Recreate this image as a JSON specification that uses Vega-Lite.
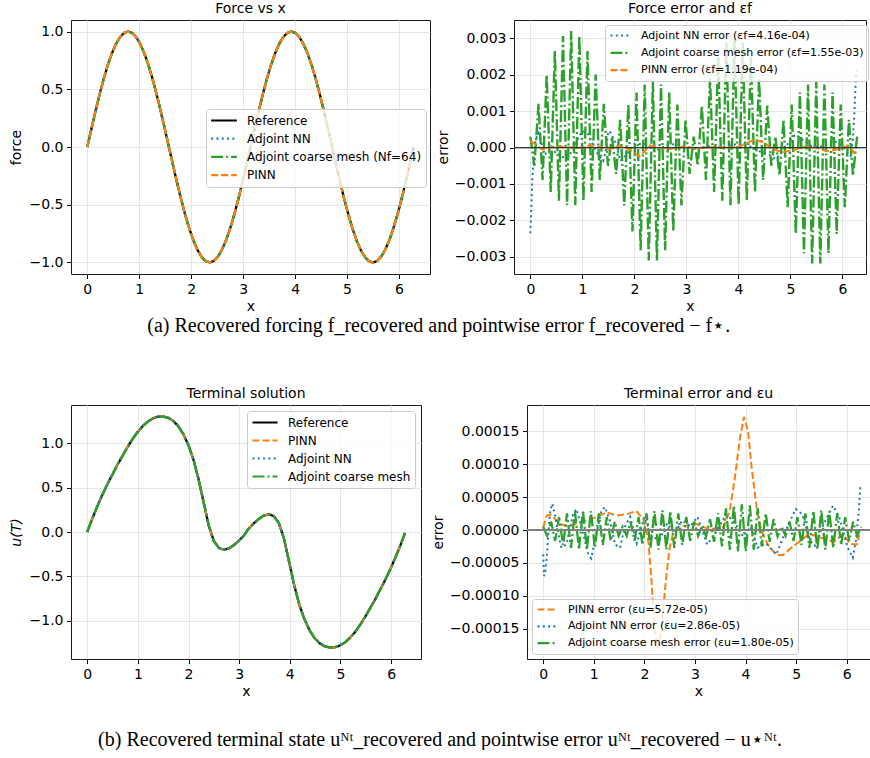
{
  "$schema": "https://vega.github.io/schema/vega-lite/v6.json",
  "padding": {"left": 8, "top": 1, "right": 0, "bottom": 0},
  "background": "white",
  "config": {
    "font": "DejaVu Sans",
    "view": {"stroke": "#1a1a1a", "strokeWidth": 1},
    "axis": {"labelFont": "DejaVu Sans", "labelFontSize": 14, "labelColor": "#000", "titleFont": "DejaVu Sans", "titleFontSize": 14, "titleFontWeight": "normal", "titleColor": "#000", "tickColor": "#000", "tickSize": 4.5, "tickWidth": 1, "labelPadding": 3.5, "domain": false, "grid": true, "gridColor": "#e6e6e6", "gridWidth": 1, "labelFlush": false, "labelOverlap": false},
    "axisX": {"titlePadding": 3},
    "axisY": {"titlePadding": 6, "labelExpr": "replace(datum.label, '-', '−')"},
    "title": {"font": "DejaVu Sans", "fontSize": 14, "fontWeight": "normal", "color": "#000", "offset": 4, "anchor": "middle"},
    "legend": {"labelFont": "DejaVu Sans", "labelColor": "#000", "symbolType": "stroke", "symbolStrokeWidth": 2.2, "labelOffset": 9, "padding": 4, "fillColor": "rgba(255,255,255,0.8)", "strokeColor": "#cccccc", "cornerRadius": 3, "labelLimit": 400}
  },
  "datasets": {
    "grid": [
      {"x": 0, "f": 0, "ecf": 0.0003, "ecu": 5e-6},
      {"x": 0.0785, "f": 0.1564, "ecf": -0.0005, "ecu": -8.9e-6},
      {"x": 0.1571, "f": 0.309, "ecf": 0.0012, "ecu": 1.27e-5},
      {"x": 0.2356, "f": 0.454, "ecf": -0.00089, "ecu": -1.64e-5},
      {"x": 0.3142, "f": 0.5878, "ecf": 0.002, "ecu": 1.97e-5},
      {"x": 0.3927, "f": 0.7071, "ecf": -0.00122, "ecu": -2.27e-5},
      {"x": 0.4712, "f": 0.809, "ecf": 0.00265, "ecu": 2.52e-5},
      {"x": 0.5498, "f": 0.891, "ecf": -0.00146, "ecu": -2.73e-5},
      {"x": 0.6283, "f": 0.9511, "ecf": 0.00306, "ecu": 2.88e-5},
      {"x": 0.7069, "f": 0.9877, "ecf": -0.00158, "ecu": -2.97e-5},
      {"x": 0.7854, "f": 1, "ecf": 0.0032, "ecu": 3e-5},
      {"x": 0.8639, "f": 0.9877, "ecf": -0.00158, "ecu": -2.97e-5},
      {"x": 0.9425, "f": 0.9511, "ecf": 0.00306, "ecu": 2.88e-5},
      {"x": 1.021, "f": 0.891, "ecf": -0.00146, "ecu": -2.73e-5},
      {"x": 1.0996, "f": 0.809, "ecf": 0.00265, "ecu": 2.52e-5},
      {"x": 1.1781, "f": 0.7071, "ecf": -0.00122, "ecu": -2.27e-5},
      {"x": 1.2566, "f": 0.5878, "ecf": 0.002, "ecu": 1.97e-5},
      {"x": 1.3352, "f": 0.454, "ecf": -0.00089, "ecu": -1.64e-5},
      {"x": 1.4137, "f": 0.309, "ecf": 0.0012, "ecu": 1.27e-5},
      {"x": 1.4923, "f": 0.1564, "ecf": -0.0005, "ecu": -8.9e-6},
      {"x": 1.5708, "f": 0, "ecf": 0.0003, "ecu": 5e-6},
      {"x": 1.6493, "f": -0.1564, "ecf": -0.00072, "ecu": -8.9e-6},
      {"x": 1.7279, "f": -0.309, "ecf": 0.00076, "ecu": 1.27e-5},
      {"x": 1.8064, "f": -0.454, "ecf": -0.00159, "ecu": -1.64e-5},
      {"x": 1.885, "f": -0.5878, "ecf": 0.00118, "ecu": 1.97e-5},
      {"x": 1.9635, "f": -0.7071, "ecf": -0.0023, "ecu": -2.27e-5},
      {"x": 2.042, "f": -0.809, "ecf": 0.00151, "ecu": 2.52e-5},
      {"x": 2.1206, "f": -0.891, "ecf": -0.00282, "ecu": -2.73e-5},
      {"x": 2.1991, "f": -0.9511, "ecf": 0.00173, "ecu": 2.88e-5},
      {"x": 2.2777, "f": -0.9877, "ecf": -0.0031, "ecu": -2.97e-5},
      {"x": 2.3562, "f": -1, "ecf": 0.0018, "ecu": 3e-5},
      {"x": 2.4347, "f": -0.9877, "ecf": -0.0031, "ecu": -2.97e-5},
      {"x": 2.5133, "f": -0.9511, "ecf": 0.00173, "ecu": 2.88e-5},
      {"x": 2.5918, "f": -0.891, "ecf": -0.00282, "ecu": -2.73e-5},
      {"x": 2.6704, "f": -0.809, "ecf": 0.00151, "ecu": 2.52e-5},
      {"x": 2.7489, "f": -0.7071, "ecf": -0.0023, "ecu": -2.27e-5},
      {"x": 2.8274, "f": -0.5878, "ecf": 0.00118, "ecu": 1.97e-5},
      {"x": 2.906, "f": -0.454, "ecf": -0.00159, "ecu": -1.64e-5},
      {"x": 2.9845, "f": -0.309, "ecf": 0.00076, "ecu": 1.27e-5},
      {"x": 3.0631, "f": -0.1564, "ecf": -0.00072, "ecu": -8.9e-6},
      {"x": 3.1416, "f": 0, "ecf": 0.0003, "ecu": 6.5e-6},
      {"x": 3.2201, "f": 0.1564, "ecf": -0.0005, "ecu": -9.8e-6},
      {"x": 3.2987, "f": 0.309, "ecf": 0.00115, "ecu": 1.65e-5},
      {"x": 3.3772, "f": 0.454, "ecf": -0.00089, "ecu": -1.8e-5},
      {"x": 3.4558, "f": 0.5878, "ecf": 0.0019, "ecu": 2.56e-5},
      {"x": 3.5343, "f": 0.7071, "ecf": -0.00122, "ecu": -2.5e-5},
      {"x": 3.6128, "f": 0.809, "ecf": 0.0025, "ecu": 3.28e-5},
      {"x": 3.6914, "f": 0.891, "ecf": -0.00146, "ecu": -3e-5},
      {"x": 3.7699, "f": 0.9511, "ecf": 0.00288, "ecu": 3.74e-5},
      {"x": 3.8485, "f": 0.9877, "ecf": -0.00158, "ecu": -3.27e-5},
      {"x": 3.927, "f": 1, "ecf": 0.003, "ecu": 3.9e-5},
      {"x": 4.0055, "f": 0.9877, "ecf": -0.00158, "ecu": -3.27e-5},
      {"x": 4.0841, "f": 0.9511, "ecf": 0.00288, "ecu": 3.74e-5},
      {"x": 4.1626, "f": 0.891, "ecf": -0.00146, "ecu": -3e-5},
      {"x": 4.2412, "f": 0.809, "ecf": 0.0025, "ecu": 3.28e-5},
      {"x": 4.3197, "f": 0.7071, "ecf": -0.00122, "ecu": -2.5e-5},
      {"x": 4.3982, "f": 0.5878, "ecf": 0.0019, "ecu": 2.56e-5},
      {"x": 4.4768, "f": 0.454, "ecf": -0.00089, "ecu": -1.8e-5},
      {"x": 4.5553, "f": 0.309, "ecf": 0.00115, "ecu": 1.65e-5},
      {"x": 4.6339, "f": 0.1564, "ecf": -0.0005, "ecu": -9.8e-6},
      {"x": 4.7124, "f": 0, "ecf": 0.0003, "ecu": 5e-6},
      {"x": 4.7909, "f": -0.1564, "ecf": -0.00077, "ecu": -8.9e-6},
      {"x": 4.8695, "f": -0.309, "ecf": 0.00076, "ecu": 1.27e-5},
      {"x": 4.948, "f": -0.454, "ecf": -0.00164, "ecu": -1.64e-5},
      {"x": 5.0265, "f": -0.5878, "ecf": 0.00118, "ecu": 1.97e-5},
      {"x": 5.1051, "f": -0.7071, "ecf": -0.00237, "ecu": -2.27e-5},
      {"x": 5.1836, "f": -0.809, "ecf": 0.00151, "ecu": 2.52e-5},
      {"x": 5.2622, "f": -0.891, "ecf": -0.0029, "ecu": -2.73e-5},
      {"x": 5.3407, "f": -0.9511, "ecf": 0.00173, "ecu": 2.88e-5},
      {"x": 5.4192, "f": -0.9877, "ecf": -0.00318, "ecu": -2.97e-5},
      {"x": 5.4978, "f": -1, "ecf": 0.0018, "ecu": 3e-5},
      {"x": 5.5763, "f": -0.9877, "ecf": -0.00318, "ecu": -2.97e-5},
      {"x": 5.6549, "f": -0.9511, "ecf": 0.00173, "ecu": 2.88e-5},
      {"x": 5.7334, "f": -0.891, "ecf": -0.0029, "ecu": -2.73e-5},
      {"x": 5.8119, "f": -0.809, "ecf": 0.00151, "ecu": 2.52e-5},
      {"x": 5.8905, "f": -0.7071, "ecf": -0.00237, "ecu": -2.27e-5},
      {"x": 5.969, "f": -0.5878, "ecf": 0.00118, "ecu": 1.97e-5},
      {"x": 6.0476, "f": -0.454, "ecf": -0.00164, "ecu": -1.64e-5},
      {"x": 6.1261, "f": -0.309, "ecf": 0.00076, "ecu": 1.27e-5},
      {"x": 6.2046, "f": -0.1564, "ecf": -0.00077, "ecu": -8.9e-6},
      {"x": 6.2832, "f": 0, "ecf": 0.0003, "ecu": 5e-6}
    ],
    "p2nn": [
      {"x": 0, "e": -0.00235}, {"x": 0.02, "e": -0.0016}, {"x": 0.04, "e": -0.0008}, {"x": 0.07, "e": -0.0002},
      {"x": 0.1, "e": 0.0002}, {"x": 0.15, "e": 0.0004}, {"x": 0.22, "e": 0.0001}, {"x": 0.3, "e": -0.00018},
      {"x": 0.4, "e": -0.0002}, {"x": 0.5, "e": -0.0001}, {"x": 0.6, "e": -0.00025}, {"x": 0.7, "e": -0.0003},
      {"x": 0.8, "e": -0.0001}, {"x": 0.9, "e": 0.0002}, {"x": 1.0, "e": 0.00045}, {"x": 1.1, "e": 0.0004},
      {"x": 1.2, "e": 0.0001}, {"x": 1.3, "e": -0.0002}, {"x": 1.4, "e": -0.00037}, {"x": 1.45, "e": -0.0001},
      {"x": 1.5, "e": 0.00045}, {"x": 1.55, "e": 0.0004}, {"x": 1.65, "e": 0.0001}, {"x": 1.73, "e": -0.00037},
      {"x": 1.85, "e": -0.0002}, {"x": 2.0, "e": 0.0001}, {"x": 2.2, "e": 0.0001}, {"x": 2.4, "e": -0.0001},
      {"x": 2.6, "e": 0.00005}, {"x": 2.8, "e": 0.0001}, {"x": 3.0, "e": 0}, {"x": 3.2, "e": -0.00005},
      {"x": 3.4, "e": 0.00005}, {"x": 3.6, "e": 0}, {"x": 3.8, "e": 0.00005}, {"x": 4.0, "e": 0.0001},
      {"x": 4.2, "e": 0.00005}, {"x": 4.4, "e": -0.0001}, {"x": 4.6, "e": -0.0002}, {"x": 4.72, "e": -0.00032},
      {"x": 4.85, "e": -0.0001}, {"x": 5.0, "e": 0.0002}, {"x": 5.1, "e": 0.00036}, {"x": 5.25, "e": 0.0002},
      {"x": 5.4, "e": 0.00005}, {"x": 5.55, "e": 0}, {"x": 5.7, "e": 0.0001}, {"x": 5.84, "e": 0.00018},
      {"x": 6.0, "e": 0.00005}, {"x": 6.1, "e": -0.00015}, {"x": 6.16, "e": -0.00023}, {"x": 6.2, "e": 0.0002},
      {"x": 6.23, "e": 0.0009}, {"x": 6.26, "e": 0.0019}, {"x": 6.27, "e": 0.0021}
    ],
    "p2pinn": [
      {"x": 0, "e": 0.00018}, {"x": 0.1, "e": 0.00008}, {"x": 0.23, "e": -0.00005}, {"x": 0.35, "e": -0.00002},
      {"x": 0.49, "e": 0.00003}, {"x": 0.7, "e": 0.00001}, {"x": 0.93, "e": -0.00001}, {"x": 1.15, "e": 0.00006},
      {"x": 1.3, "e": 0.00002}, {"x": 1.5, "e": -0.00005}, {"x": 1.7, "e": 0.00004}, {"x": 1.9, "e": -0.00005},
      {"x": 2.1, "e": -0.00024}, {"x": 2.2, "e": -0.0001}, {"x": 2.3, "e": 0.00006}, {"x": 2.4, "e": 0.00002},
      {"x": 2.66, "e": -0.00004}, {"x": 2.98, "e": 0.00003}, {"x": 3.2, "e": -0.00002}, {"x": 3.5, "e": 0.00001},
      {"x": 3.85, "e": 0}, {"x": 4.04, "e": 0.00004}, {"x": 4.2, "e": 0.00015}, {"x": 4.3, "e": 0.00021},
      {"x": 4.49, "e": 0.00015}, {"x": 4.65, "e": -0.00005}, {"x": 4.87, "e": -0.00012}, {"x": 5.07, "e": -0.00007},
      {"x": 5.26, "e": 0.00002}, {"x": 5.48, "e": 0}, {"x": 5.71, "e": -0.0001}, {"x": 5.93, "e": -0.00004},
      {"x": 6.09, "e": 0.00004}, {"x": 6.18, "e": -0.00005}, {"x": 6.25, "e": -0.00019}
    ],
    "term": [
      {"x": 0, "u": 0}, {"x": 0.1, "u": 0.15}, {"x": 0.2, "u": 0.29}, {"x": 0.3, "u": 0.42}, {"x": 0.4, "u": 0.54},
      {"x": 0.5, "u": 0.65}, {"x": 0.6, "u": 0.76}, {"x": 0.7, "u": 0.86}, {"x": 0.8, "u": 0.96}, {"x": 0.9, "u": 1.05},
      {"x": 1.0, "u": 1.13}, {"x": 1.1, "u": 1.195}, {"x": 1.2, "u": 1.245}, {"x": 1.3, "u": 1.28}, {"x": 1.4, "u": 1.3},
      {"x": 1.5, "u": 1.3}, {"x": 1.6, "u": 1.285}, {"x": 1.7, "u": 1.25}, {"x": 1.8, "u": 1.19}, {"x": 1.9, "u": 1.1},
      {"x": 2.0, "u": 0.975}, {"x": 2.1, "u": 0.81}, {"x": 2.2, "u": 0.59}, {"x": 2.3, "u": 0.33}, {"x": 2.4, "u": 0.07},
      {"x": 2.5, "u": -0.1}, {"x": 2.6, "u": -0.18}, {"x": 2.7, "u": -0.2}, {"x": 2.8, "u": -0.185}, {"x": 2.9, "u": -0.145},
      {"x": 3.0, "u": -0.095}, {"x": 3.1, "u": -0.035}, {"x": 3.1416, "u": 0},
      {"x": 3.1832, "u": 0.035}, {"x": 3.2832, "u": 0.095}, {"x": 3.3832, "u": 0.145}, {"x": 3.4832, "u": 0.185},
      {"x": 3.5832, "u": 0.2}, {"x": 3.6832, "u": 0.18}, {"x": 3.7832, "u": 0.1}, {"x": 3.8832, "u": -0.07},
      {"x": 3.9832, "u": -0.33}, {"x": 4.0832, "u": -0.59}, {"x": 4.1832, "u": -0.81}, {"x": 4.2832, "u": -0.975},
      {"x": 4.3832, "u": -1.1}, {"x": 4.4832, "u": -1.19}, {"x": 4.5832, "u": -1.25}, {"x": 4.6832, "u": -1.285},
      {"x": 4.7832, "u": -1.3}, {"x": 4.8832, "u": -1.3}, {"x": 4.9832, "u": -1.28}, {"x": 5.0832, "u": -1.245},
      {"x": 5.1832, "u": -1.195}, {"x": 5.2832, "u": -1.13}, {"x": 5.3832, "u": -1.05}, {"x": 5.4832, "u": -0.96},
      {"x": 5.5832, "u": -0.86}, {"x": 5.6832, "u": -0.76}, {"x": 5.7832, "u": -0.65}, {"x": 5.8832, "u": -0.54},
      {"x": 5.9832, "u": -0.42}, {"x": 6.0832, "u": -0.29}, {"x": 6.1832, "u": -0.15}, {"x": 6.275, "u": -0.01}
    ],
    "p4nn": [
      {"x": 0, "e": -3.7e-5}, {"x": 0.015, "e": -7e-5}, {"x": 0.04, "e": -6.5e-5}, {"x": 0.07, "e": -4.2e-5},
      {"x": 0.1, "e": -6e-6}, {"x": 0.14, "e": 2.9e-5}, {"x": 0.18, "e": 4e-5}, {"x": 0.23, "e": 2.4e-5},
      {"x": 0.3, "e": -6e-6}, {"x": 0.36, "e": -2.7e-5}, {"x": 0.46, "e": -2.2e-5}, {"x": 0.59, "e": 2.4e-5},
      {"x": 0.66, "e": 3.2e-5}, {"x": 0.76, "e": 4e-6}, {"x": 0.89, "e": -3.7e-5}, {"x": 0.95, "e": -4.3e-5},
      {"x": 1.05, "e": -6e-6}, {"x": 1.15, "e": 2.9e-5}, {"x": 1.22, "e": 3.5e-5}, {"x": 1.32, "e": 1.4e-5},
      {"x": 1.42, "e": -2.2e-5}, {"x": 1.52, "e": -2.7e-5}, {"x": 1.61, "e": 4e-6}, {"x": 1.72, "e": 2e-5},
      {"x": 1.85, "e": -2e-5}, {"x": 2.0, "e": 2e-5}, {"x": 2.15, "e": -1e-5}, {"x": 2.3, "e": -1.5e-5},
      {"x": 2.45, "e": 1e-5}, {"x": 2.6, "e": -5e-6}, {"x": 2.75, "e": 1.5e-5}, {"x": 2.9, "e": 5e-6},
      {"x": 3.05, "e": 2e-5}, {"x": 3.24, "e": -2.2e-5}, {"x": 3.4, "e": -5e-6}, {"x": 3.62, "e": 2.4e-5},
      {"x": 3.8, "e": 1e-5}, {"x": 3.95, "e": -1e-5}, {"x": 4.1, "e": 5e-6}, {"x": 4.24, "e": -2.7e-5},
      {"x": 4.4, "e": -2e-5}, {"x": 4.61, "e": -3.7e-5}, {"x": 4.8, "e": 0}, {"x": 4.99, "e": 3.2e-5},
      {"x": 5.12, "e": 2.4e-5}, {"x": 5.28, "e": -1.7e-5}, {"x": 5.37, "e": -2.4e-5}, {"x": 5.55, "e": 1e-5},
      {"x": 5.73, "e": 3.7e-5}, {"x": 5.85, "e": 2e-5}, {"x": 6.02, "e": -2.7e-5}, {"x": 6.12, "e": -4.2e-5},
      {"x": 6.18, "e": -1.7e-5}, {"x": 6.24, "e": 2.9e-5}, {"x": 6.27, "e": 6.7e-5}
    ],
    "p4pinn": [
      {"x": 0, "e": 4e-6}, {"x": 0.07, "e": 2.2e-5}, {"x": 0.16, "e": 2.3e-5}, {"x": 0.33, "e": 9e-6},
      {"x": 0.5, "e": 6e-6}, {"x": 0.75, "e": 1.2e-5}, {"x": 1.0, "e": 1.8e-5}, {"x": 1.25, "e": 2.7e-5},
      {"x": 1.45, "e": 2.2e-5}, {"x": 1.65, "e": 2.4e-5}, {"x": 1.84, "e": 2.9e-5}, {"x": 1.98, "e": 1.6e-5},
      {"x": 2.08, "e": -1.7e-5}, {"x": 2.14, "e": -7.7e-5}, {"x": 2.2, "e": -0.00015}, {"x": 2.27, "e": -0.00018},
      {"x": 2.34, "e": -0.00015}, {"x": 2.42, "e": -8e-5}, {"x": 2.5, "e": -2.7e-5}, {"x": 2.57, "e": -4e-6},
      {"x": 2.77, "e": 6e-6}, {"x": 3.03, "e": 9e-6}, {"x": 3.29, "e": 1e-6}, {"x": 3.56, "e": 4e-6},
      {"x": 3.69, "e": 3e-5}, {"x": 3.79, "e": 8e-5}, {"x": 3.89, "e": 0.00014}, {"x": 3.97, "e": 0.000172},
      {"x": 4.05, "e": 0.00015}, {"x": 4.12, "e": 9.5e-5}, {"x": 4.22, "e": 3.4e-5}, {"x": 4.31, "e": 0},
      {"x": 4.44, "e": -2.2e-5}, {"x": 4.61, "e": -3.8e-5}, {"x": 4.74, "e": -3.8e-5}, {"x": 4.9, "e": -2.7e-5},
      {"x": 5.07, "e": -1.7e-5}, {"x": 5.26, "e": -6e-6}, {"x": 5.5, "e": -1.2e-5}, {"x": 5.75, "e": -1.8e-5},
      {"x": 5.93, "e": -6e-6}, {"x": 6.06, "e": -2.1e-5}, {"x": 6.2, "e": -2.2e-5}, {"x": 6.25, "e": -7e-6}
    ]
  },
  "resolve": {"scale": {"x": "independent", "y": "independent", "color": "independent", "strokeDash": "independent"}, "legend": {"color": "independent", "strokeDash": "independent"}},
  "spacing": 50,
  "vconcat": [
    {
      "title": {"text": "(a) Recovered forcing f_recovered and pointwise error f_recovered − f⋆.", "orient": "bottom", "anchor": "middle", "font": "Liberation Serif", "fontSize": 20, "fontWeight": "normal", "offset": 2},
      "spacing": 4,
      "resolve": {"scale": {"x": "independent", "y": "independent", "color": "independent", "strokeDash": "independent"}, "legend": {"color": "independent", "strokeDash": "independent"}},
      "hconcat": [
        {
          "width": 359, "height": 254,
          "title": "Force vs x",
          "data": {"name": "grid"},
          "encoding": {
            "x": {"field": "x", "type": "quantitative", "scale": {"domain": [-0.314, 6.597], "nice": false, "zero": false}, "axis": {"values": [0, 1, 2, 3, 4, 5, 6], "format": "d", "title": "x"}},
            "y": {"field": "f", "type": "quantitative", "scale": {"domain": [-1.1, 1.1], "nice": false, "zero": false}, "axis": {"values": [-1, -0.5, 0, 0.5, 1], "format": ".1f", "title": "force", "minExtent": 42, "maxExtent": 42, "titlePadding": 6}}
          },
          "layer": [
            {"mark": {"type": "line", "strokeWidth": 2.3}, "encoding": {
              "color": {"datum": "Reference", "scale": {"domain": ["Reference", "Adjoint NN", "Adjoint coarse mesh (Nf=64)", "PINN"], "range": ["#000000", "#1f77b4", "#2ca02c", "#ff7f0e"]}, "legend": {"title": null, "orient": "none", "legendX": 135, "legendY": 89, "labelFontSize": 12, "symbolSize": 660, "clipHeight": 15, "rowPadding": 3.2}},
              "strokeDash": {"datum": "Reference", "scale": {"domain": ["Reference", "Adjoint NN", "Adjoint coarse mesh (Nf=64)", "PINN"], "range": [[1, 0], [2, 3.3], [12, 3, 2, 3], [7, 3]]}, "legend": {"title": null, "orient": "none", "legendX": 135, "legendY": 89, "labelFontSize": 12, "symbolSize": 660, "clipHeight": 15, "rowPadding": 3.2}}
            }},
            {"mark": {"type": "line", "strokeWidth": 2.3}, "encoding": {"color": {"datum": "Adjoint NN"}, "strokeDash": {"datum": "Adjoint NN"}}},
            {"mark": {"type": "line", "strokeWidth": 2.3}, "encoding": {"color": {"datum": "Adjoint coarse mesh (Nf=64)"}, "strokeDash": {"datum": "Adjoint coarse mesh (Nf=64)"}}},
            {"mark": {"type": "line", "strokeWidth": 2.3}, "encoding": {"color": {"datum": "PINN"}, "strokeDash": {"datum": "PINN"}}}
          ]
        },
        {
          "width": 352, "height": 254,
          "title": "Force error and εf",
          "layer": [
            {"data": {"name": "p2nn"}, "mark": {"type": "line", "strokeWidth": 2}, "encoding": {
              "x": {"field": "x", "type": "quantitative", "scale": {"domain": [-0.314, 6.455], "nice": false, "zero": false}, "axis": {"values": [0, 1, 2, 3, 4, 5, 6], "format": "d", "title": "x"}},
              "y": {"field": "e", "type": "quantitative", "scale": {"domain": [-0.00347, 0.0035], "nice": false, "zero": false}, "axis": {"values": [-0.003, -0.002, -0.001, 0, 0.001, 0.002, 0.003], "format": ".3f", "title": "error", "minExtent": 60, "maxExtent": 60, "titlePadding": 4}},
              "color": {"datum": "Adjoint NN error (εf=4.16e-04)", "scale": {"domain": ["Adjoint NN error (εf=4.16e-04)", "Adjoint coarse mesh error (εf=1.55e-03)", "PINN error (εf=1.19e-04)"], "range": ["#1f77b4", "#2ca02c", "#ff7f0e"]}, "legend": {"title": null, "orient": "none", "legendX": 91, "legendY": 5, "labelFontSize": 11, "symbolSize": 400, "clipHeight": 13, "rowPadding": 4.3}},
              "strokeDash": {"datum": "Adjoint NN error (εf=4.16e-04)", "scale": {"domain": ["Adjoint NN error (εf=4.16e-04)", "Adjoint coarse mesh error (εf=1.55e-03)", "PINN error (εf=1.19e-04)"], "range": [[2, 3.3], [12, 3, 2, 3], [7, 3]]}, "legend": {"title": null, "orient": "none", "legendX": 91, "legendY": 5, "labelFontSize": 11, "symbolSize": 400, "clipHeight": 13, "rowPadding": 4.3}}
            }},
            {"data": {"name": "grid"}, "mark": {"type": "line", "strokeWidth": 2.4}, "encoding": {
              "x": {"field": "x", "type": "quantitative"},
              "y": {"field": "ecf", "type": "quantitative", "title": "error"},
              "color": {"datum": "Adjoint coarse mesh error (εf=1.55e-03)"}, "strokeDash": {"datum": "Adjoint coarse mesh error (εf=1.55e-03)"}
            }},
            {"data": {"name": "p2pinn"}, "mark": {"type": "line", "strokeWidth": 2}, "encoding": {
              "x": {"field": "x", "type": "quantitative"},
              "y": {"field": "e", "type": "quantitative", "title": "error"},
              "color": {"datum": "PINN error (εf=1.19e-04)"}, "strokeDash": {"datum": "PINN error (εf=1.19e-04)"}
            }},
            {"data": {"values": [{}]}, "mark": {"type": "rule", "color": "#333333", "strokeWidth": 1.2}, "encoding": {"y": {"datum": 0}}}
          ]
        }
      ]
    },
    {
      "title": {"text": "(b) Recovered terminal state uᴺᵗ_recovered and pointwise error uᴺᵗ_recovered − u⋆ᴺᵗ.", "orient": "bottom", "anchor": "middle", "font": "Liberation Serif", "fontSize": 20, "fontWeight": "normal", "offset": 31},
      "spacing": 8,
      "resolve": {"scale": {"x": "independent", "y": "independent", "color": "independent", "strokeDash": "independent"}, "legend": {"color": "independent", "strokeDash": "independent"}},
      "hconcat": [
        {
          "width": 350, "height": 254,
          "title": "Terminal solution",
          "data": {"name": "term"},
          "encoding": {
            "x": {"field": "x", "type": "quantitative", "scale": {"domain": [-0.32, 6.59], "nice": false, "zero": false}, "axis": {"values": [0, 1, 2, 3, 4, 5, 6], "format": "d", "title": "x"}},
            "y": {"field": "u", "type": "quantitative", "scale": {"domain": [-1.43, 1.43], "nice": false, "zero": false}, "axis": {"values": [-1, -0.5, 0, 0.5, 1], "format": ".1f", "title": "u(T)", "titleFontStyle": "italic", "minExtent": 42, "maxExtent": 42, "titlePadding": 6}}
          },
          "layer": [
            {"mark": {"type": "line", "strokeWidth": 2.3}, "encoding": {
              "color": {"datum": "Reference", "scale": {"domain": ["Reference", "PINN", "Adjoint NN", "Adjoint coarse mesh"], "range": ["#000000", "#ff7f0e", "#1f77b4", "#2ca02c"]}, "legend": {"title": null, "orient": "top-right", "offset": 6, "labelFontSize": 12, "symbolSize": 625, "clipHeight": 15, "rowPadding": 3}},
              "strokeDash": {"datum": "Reference", "scale": {"domain": ["Reference", "PINN", "Adjoint NN", "Adjoint coarse mesh"], "range": [[1, 0], [7, 3], [2, 3.3], [12, 3, 2, 3]]}, "legend": {"title": null, "orient": "top-right", "offset": 6, "labelFontSize": 12, "symbolSize": 625, "clipHeight": 15, "rowPadding": 3}}
            }},
            {"mark": {"type": "line", "strokeWidth": 2.3}, "encoding": {"color": {"datum": "PINN"}, "strokeDash": {"datum": "PINN"}}},
            {"mark": {"type": "line", "strokeWidth": 2.3}, "encoding": {"color": {"datum": "Adjoint NN"}, "strokeDash": {"datum": "Adjoint NN"}}},
            {"mark": {"type": "line", "strokeWidth": 2.3}, "encoding": {"color": {"datum": "Adjoint coarse mesh"}, "strokeDash": {"datum": "Adjoint coarse mesh"}}}
          ]
        },
        {
          "width": 343, "height": 254,
          "title": "Terminal error and εu",
          "layer": [
            {"data": {"name": "p4pinn"}, "mark": {"type": "line", "strokeWidth": 2}, "encoding": {
              "x": {"field": "x", "type": "quantitative", "scale": {"domain": [-0.32, 6.46], "nice": false, "zero": false}, "axis": {"values": [0, 1, 2, 3, 4, 5, 6], "format": "d", "title": "x"}},
              "y": {"field": "e", "type": "quantitative", "scale": {"domain": [-0.000196, 0.00019], "nice": false, "zero": false}, "axis": {"values": [-0.00015, -0.0001, -0.00005, 0, 0.00005, 0.0001, 0.00015], "format": ".5f", "title": "error", "minExtent": 78, "maxExtent": 78, "titlePadding": 4}},
              "color": {"datum": "PINN error (εu=5.72e-05)", "scale": {"domain": ["PINN error (εu=5.72e-05)", "Adjoint NN error (εu=2.86e-05)", "Adjoint coarse mesh error (εu=1.80e-05)"], "range": ["#ff7f0e", "#1f77b4", "#2ca02c"]}, "legend": {"title": null, "orient": "bottom-left", "offset": 5, "labelFontSize": 11, "symbolSize": 400, "clipHeight": 13, "rowPadding": 3.8}},
              "strokeDash": {"datum": "PINN error (εu=5.72e-05)", "scale": {"domain": ["PINN error (εu=5.72e-05)", "Adjoint NN error (εu=2.86e-05)", "Adjoint coarse mesh error (εu=1.80e-05)"], "range": [[7, 3], [2, 3.3], [12, 3, 2, 3]]}, "legend": {"title": null, "orient": "bottom-left", "offset": 5, "labelFontSize": 11, "symbolSize": 400, "clipHeight": 13, "rowPadding": 3.8}}
            }},
            {"data": {"name": "p4nn"}, "mark": {"type": "line", "strokeWidth": 2}, "encoding": {
              "x": {"field": "x", "type": "quantitative"},
              "y": {"field": "e", "type": "quantitative", "title": "error"},
              "color": {"datum": "Adjoint NN error (εu=2.86e-05)"}, "strokeDash": {"datum": "Adjoint NN error (εu=2.86e-05)"}
            }},
            {"data": {"name": "grid"}, "mark": {"type": "line", "strokeWidth": 2.3}, "encoding": {
              "x": {"field": "x", "type": "quantitative"},
              "y": {"field": "ecu", "type": "quantitative", "title": "error"},
              "color": {"datum": "Adjoint coarse mesh error (εu=1.80e-05)"}, "strokeDash": {"datum": "Adjoint coarse mesh error (εu=1.80e-05)"}
            }},
            {"data": {"values": [{}]}, "mark": {"type": "rule", "color": "#808080", "strokeWidth": 2}, "encoding": {"y": {"datum": 0}}}
          ]
        }
      ]
    }
  ]
}
